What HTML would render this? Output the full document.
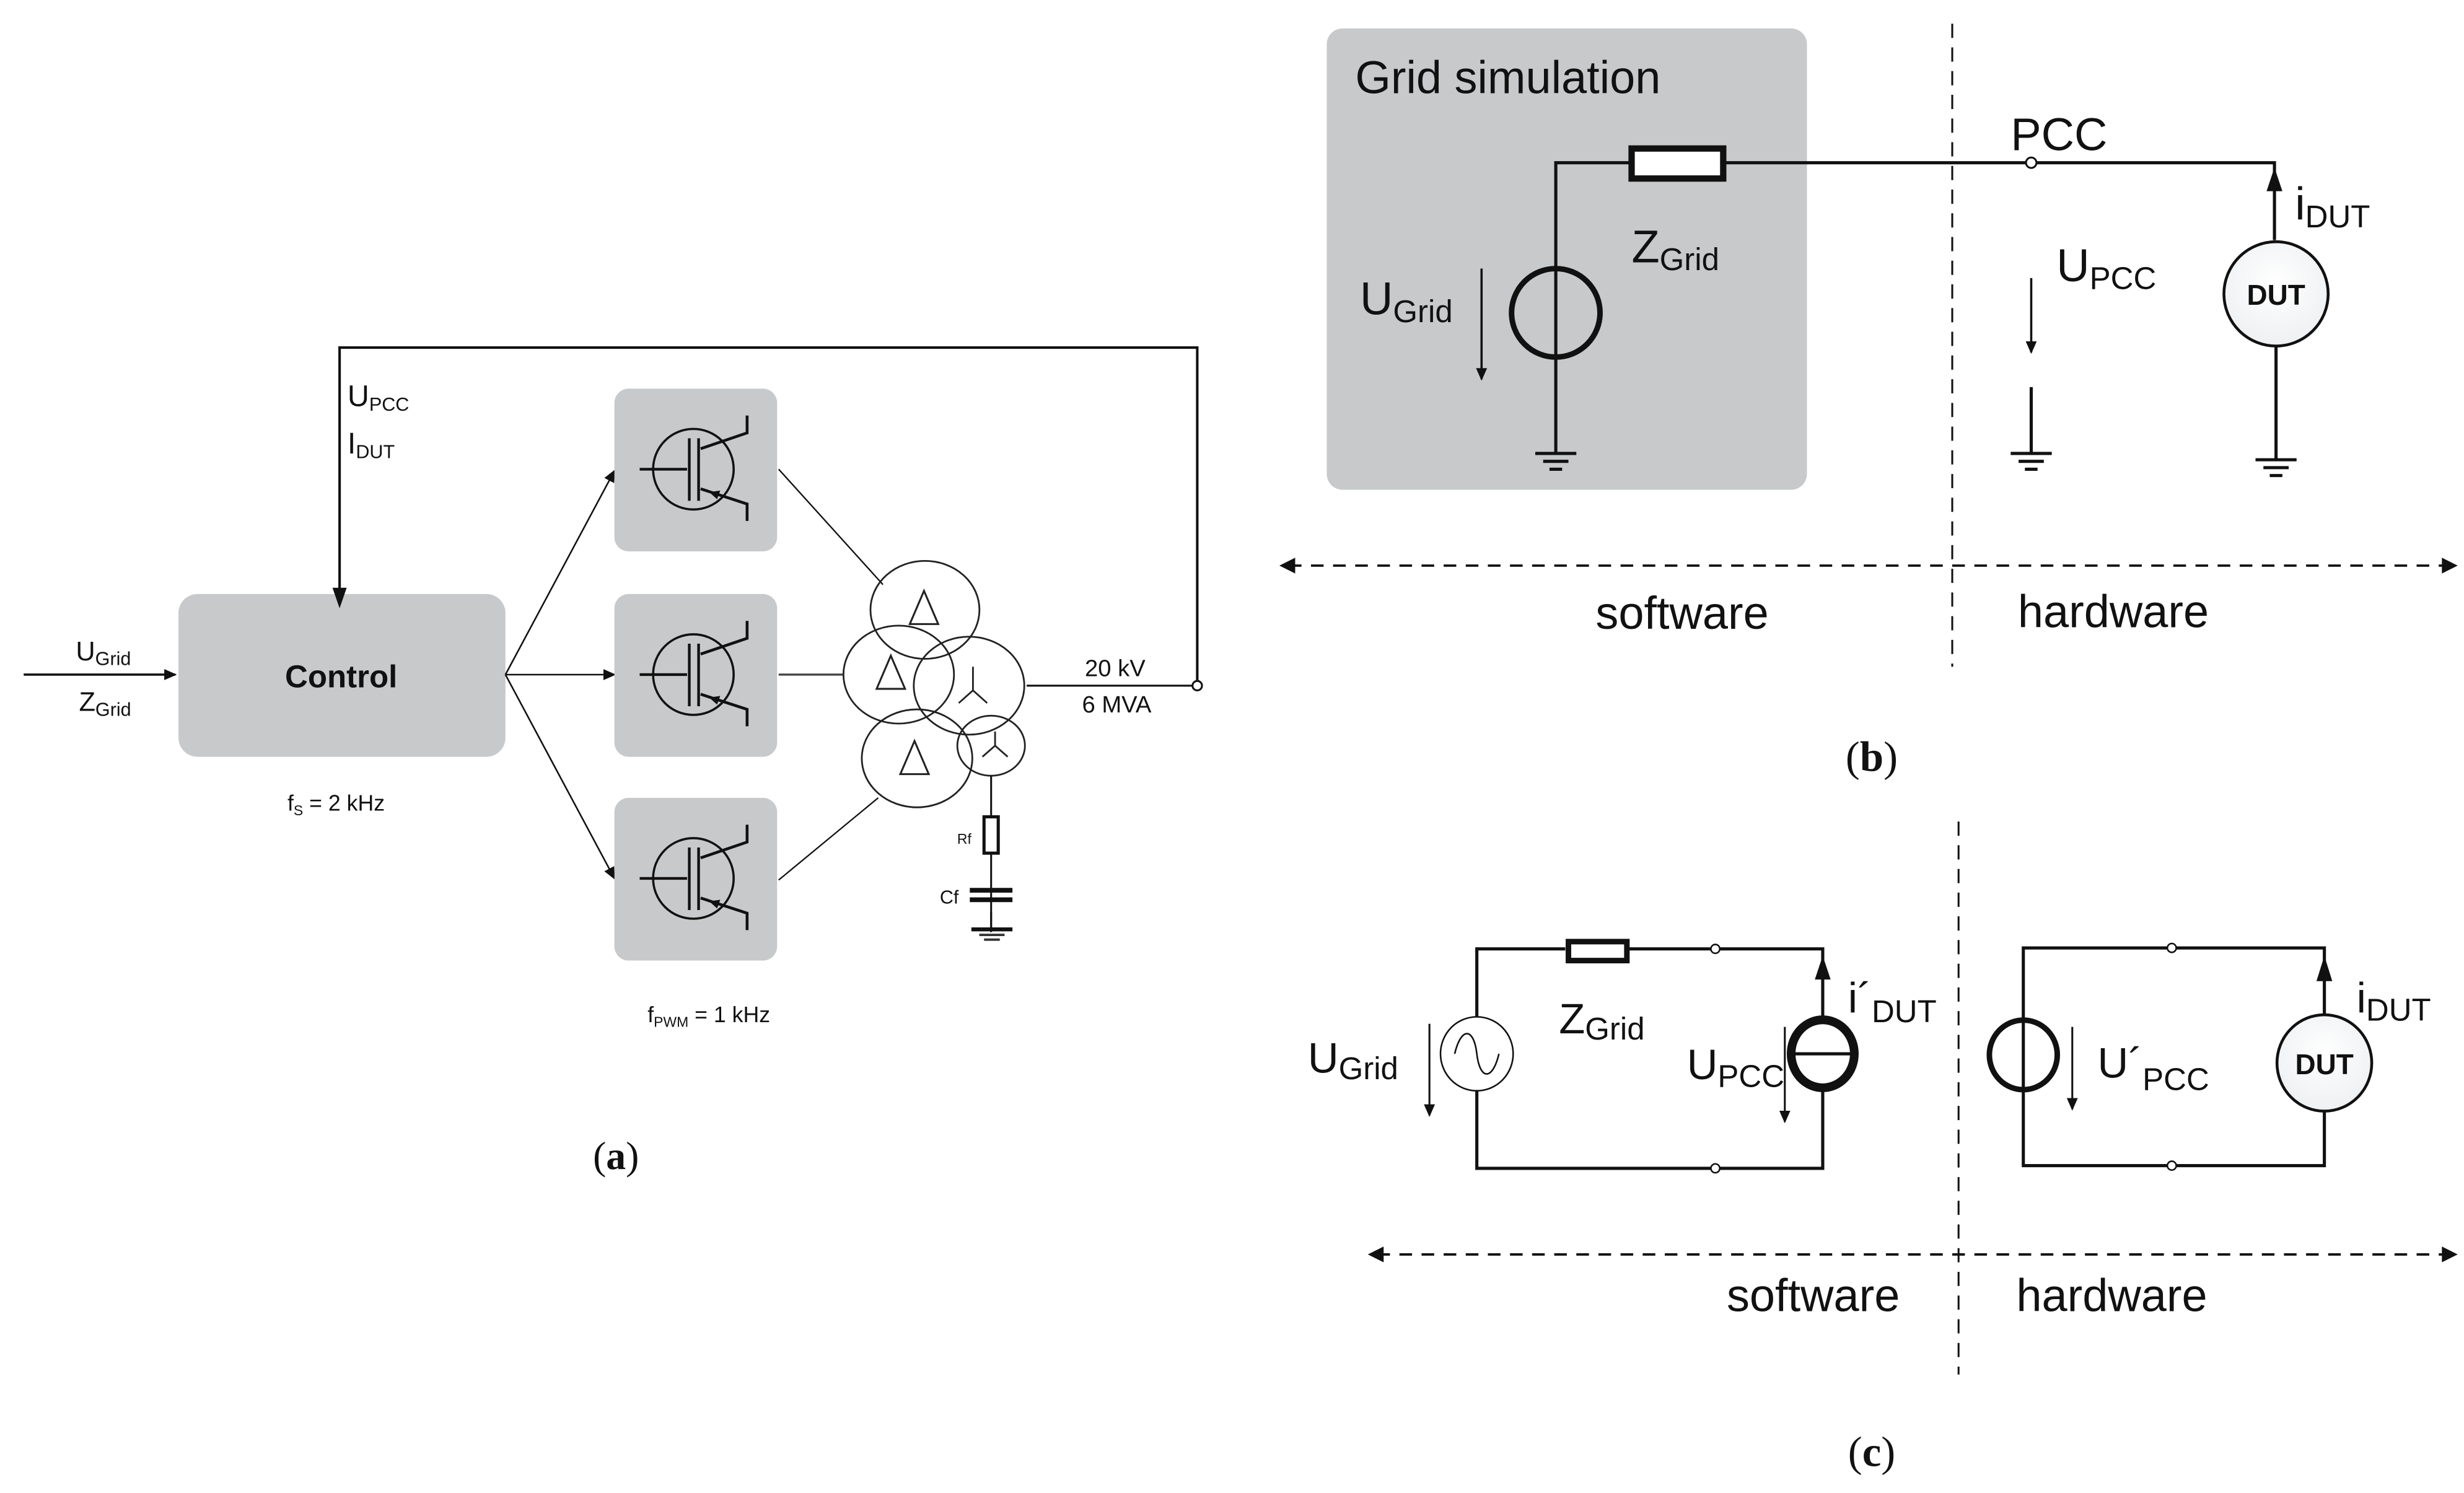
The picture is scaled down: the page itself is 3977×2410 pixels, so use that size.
<!DOCTYPE html>
<html><head><meta charset="utf-8"><style>
html,body{margin:0;padding:0;background:#fff;}
svg{display:block;}
text{font-family:"Liberation Sans",sans-serif;fill:#111;}
</style></head><body>
<svg width="3977" height="2410" viewBox="0 0 1560 945" preserveAspectRatio="none" xmlns="http://www.w3.org/2000/svg">
<defs>
<marker id="ah" markerWidth="8" markerHeight="8" refX="7" refY="4" orient="auto" markerUnits="userSpaceOnUse"><path d="M0,0.5 L8,4 L0,7.5 Z" fill="#111"/></marker>
<radialGradient id="dg" cx="0.5" cy="0.4" r="0.6"><stop offset="0" stop-color="#fff"/><stop offset="1" stop-color="#eef0f2"/></radialGradient>
<g id="igbt" fill="none" stroke="#111">
<circle cx="0" cy="0" r="25.5" stroke-width="1.4"/>
<line x1="-34" y1="0" x2="-4" y2="0" stroke-width="1.7"/>
<line x1="-2.6" y1="-19.6" x2="-2.6" y2="20" stroke-width="1.7"/>
<line x1="3.3" y1="-19.6" x2="3.3" y2="20" stroke-width="1.7"/>
<polyline points="4.6,-13 34,-23 34,-34" stroke-width="1.8"/>
<polyline points="4.6,12.4 34,22 34,32.7" stroke-width="1.8"/>
<path d="M10,14.5 L17,13.5 L15,19 Z" fill="#111" stroke="none"/>
</g>
<g id="gnd" stroke="#111" fill="none">
<line x1="-13" y1="0" x2="13" y2="0" stroke-width="2"/>
<line x1="-8" y1="5" x2="8" y2="5" stroke-width="2"/>
<line x1="-4" y1="10" x2="4" y2="10" stroke-width="2"/>
</g>
</defs>

<!-- (a) -->
<polyline points="215,374 215,220 758,220 758,431" fill="none" stroke="#111" stroke-width="1.6"/>
<text x="220" y="257" font-size="19">U<tspan font-size="12" dy="3">PCC</tspan></text>
<text x="220" y="287" font-size="19">I<tspan font-size="12" dy="3">DUT</tspan></text>
<line x1="15" y1="427" x2="111" y2="427" stroke="#111" stroke-width="1.4" marker-end="url(#ah)"/>
<text x="48" y="418" font-size="17">U<tspan font-size="12" dy="3">Grid</tspan></text>
<text x="50" y="450" font-size="17">Z<tspan font-size="12" dy="3">Grid</tspan></text>
<rect x="113" y="376" width="207" height="103" rx="12" fill="#c7c9ca"/>
<path d="M215,385 L210.5,372 L219.5,372 Z" fill="#111"/>
<text x="216" y="435" font-size="20" font-weight="bold" text-anchor="middle">Control</text>
<text x="182" y="513" font-size="14">f<tspan font-size="9" dy="3">S</tspan><tspan dy="-3"> = 2 kHz</tspan></text>

<line x1="320" y1="427" x2="389" y2="298" stroke="#111" stroke-width="1" marker-end="url(#ah)"/>
<line x1="320" y1="427" x2="389" y2="427" stroke="#111" stroke-width="1" marker-end="url(#ah)"/>
<line x1="320" y1="427" x2="389" y2="556" stroke="#111" stroke-width="1" marker-end="url(#ah)"/>

<rect x="389" y="246" width="103" height="103" rx="9" fill="#c7c9ca"/>
<rect x="389" y="376" width="103" height="103" rx="9" fill="#c7c9ca"/>
<rect x="389" y="505" width="103" height="103" rx="9" fill="#c7c9ca"/>
<use href="#igbt" x="439" y="297"/>
<use href="#igbt" x="439" y="427"/>
<use href="#igbt" x="439" y="556"/>

<line x1="493" y1="297" x2="559" y2="370" stroke="#111" stroke-width="0.9"/>
<line x1="493" y1="427" x2="534" y2="427" stroke="#444" stroke-width="1.3"/>
<line x1="493" y1="557" x2="556" y2="505" stroke="#111" stroke-width="0.9"/>

<g fill="none" stroke="#222" stroke-width="1.1">
<ellipse cx="585.6" cy="386" rx="34.5" ry="31"/>
<ellipse cx="569" cy="427" rx="35" ry="31"/>
<ellipse cx="613.5" cy="434" rx="35" ry="31"/>
<ellipse cx="580.6" cy="480" rx="35" ry="31"/>
<ellipse cx="627.5" cy="472" rx="21.4" ry="19"/>
<path d="M576,395 L585,374 L594,395 Z" stroke-width="1.2"/>
<path d="M555,436 L564,415 L573,436 Z" stroke-width="1.2"/>
<path d="M570,490 L579,469 L588,490 Z" stroke-width="1.2"/>
<path d="M616,422 L616,437 M616,437 L607,445 M616,437 L625,445"/>
<path d="M630,463 L630,472 M630,472 L622,479 M630,472 L638,479"/>
</g>
<line x1="650" y1="434" x2="755" y2="434" stroke="#111" stroke-width="1.2"/>
<circle cx="758" cy="434" r="3" fill="#fff" stroke="#111" stroke-width="1.2"/>
<text x="706" y="428" font-size="15" text-anchor="middle">20 kV</text>
<text x="707" y="451" font-size="15" text-anchor="middle">6 MVA</text>
<line x1="627.5" y1="491" x2="627.5" y2="588" stroke="#111" stroke-width="1.2"/>
<rect x="623" y="517" width="9" height="23" fill="#fff" stroke="#111" stroke-width="2"/>
<rect x="615" y="562" width="26" height="15" fill="#fff"/>
<line x1="627.5" y1="562" x2="627.5" y2="590" stroke="#111" stroke-width="1.2"/>
<rect x="614" y="562" width="27" height="3" fill="#111"/>
<rect x="614" y="568" width="27" height="3" fill="#111"/>
<rect x="615" y="587" width="26" height="2.5" fill="#111"/>
<rect x="620" y="591" width="16" height="1.5" fill="#333"/>
<rect x="623" y="594" width="10" height="1.5" fill="#333"/>
<text x="606" y="534" font-size="9">Rf</text>
<text x="595" y="572" font-size="12">Cf</text>
<text x="410" y="647" font-size="14">f<tspan font-size="9" dy="3">PWM</tspan><tspan dy="-3"> = 1 kHz</tspan></text>
<text x="390" y="740" font-size="25" text-anchor="middle" style="font-family:'Liberation Serif',serif">(<tspan font-weight="bold">a</tspan>)</text>

<!-- (b) -->
<rect x="840" y="18" width="304" height="292" rx="10" fill="#c7c9ca"/>
<text x="858" y="59" font-size="29">Grid simulation</text>
<line x1="1236" y1="15" x2="1236" y2="422" stroke="#111" stroke-width="1.2" stroke-dasharray="9,6"/>
<polyline points="985,288 985,103 1032,103" fill="none" stroke="#111" stroke-width="2"/>
<rect x="1033" y="94" width="58" height="19" fill="#fff" stroke="#111" stroke-width="4"/>
<polyline points="1091,103 1440,103 1440,152" fill="none" stroke="#111" stroke-width="2"/>
<path d="M1440,106 L1435,121 L1445,121 Z" fill="#111"/>
<circle cx="1286" cy="103" r="3.3" fill="#fff" stroke="#111" stroke-width="1.2"/>
<text x="1273" y="95" font-size="29">PCC</text>
<circle cx="985" cy="198" r="28" fill="none" stroke="#111" stroke-width="3.5"/>
<use href="#gnd" x="985" y="287"/>
<line x1="938" y1="170" x2="938" y2="240" stroke="#111" stroke-width="1.4" marker-end="url(#ah)"/>
<text x="861" y="199" font-size="29">U<tspan font-size="20" dy="5">Grid</tspan></text>
<text x="1033" y="166" font-size="29">Z<tspan font-size="20" dy="5">Grid</tspan></text>
<line x1="1286" y1="176" x2="1286" y2="223" stroke="#111" stroke-width="1.4" marker-end="url(#ah)"/>
<text x="1302" y="178" font-size="29">U<tspan font-size="20" dy="5">PCC</tspan></text>
<line x1="1286" y1="245" x2="1286" y2="287" stroke="#111" stroke-width="2"/>
<use href="#gnd" x="1286" y="287"/>
<ellipse cx="1441" cy="186" rx="33" ry="33" fill="url(#dg)" stroke="#111" stroke-width="1.8"/>
<text x="1441" y="193" font-size="18" font-weight="bold" text-anchor="middle">DUT</text>
<line x1="1441" y1="219" x2="1441" y2="291" stroke="#111" stroke-width="2"/>
<use href="#gnd" x="1441" y="291"/>
<text x="1453" y="139" font-size="29">i<tspan font-size="20" dy="5">DUT</tspan></text>
<line x1="816" y1="358" x2="1550" y2="358" stroke="#111" stroke-width="1.5" stroke-dasharray="8,6"/>
<path d="M810,358 L820,353 L820,363 Z" fill="#111"/>
<path d="M1556,358 L1546,353 L1546,363 Z" fill="#111"/>
<text x="1065" y="398" font-size="29" text-anchor="middle">software</text>
<text x="1338" y="397" font-size="29" text-anchor="middle">hardware</text>
<text x="1185" y="488" font-size="27" text-anchor="middle" style="font-family:'Liberation Serif',serif">(<tspan font-weight="bold">b</tspan>)</text>

<!-- (c) -->
<line x1="1240" y1="520" x2="1240" y2="870" stroke="#111" stroke-width="1.2" stroke-dasharray="9,6"/>
<polyline points="1082,600.6 1154,600.6 1154,739.5 935,739.5 935,600.6 991,600.6" fill="none" stroke="#111" stroke-width="2"/>
<line x1="1031" y1="600.6" x2="1082" y2="600.6" stroke="#111" stroke-width="2"/>
<rect x="993" y="596" width="37" height="12" fill="#fff" stroke="#111" stroke-width="3.5"/>
<circle cx="1086" cy="600.6" r="2.8" fill="#fff" stroke="#111" stroke-width="1"/>
<circle cx="1086" cy="739.5" r="2.8" fill="#fff" stroke="#111" stroke-width="1"/>
<ellipse cx="935" cy="667" rx="23" ry="23.4" fill="#fff" stroke="#111" stroke-width="1"/>
<path d="M921,667 C925,650 933,650 935,667 C937,684 945,684 949,667" fill="none" stroke="#111" stroke-width="1"/>
<ellipse cx="1154" cy="667" rx="20" ry="21.5" fill="#fff" stroke="#111" stroke-width="5.5"/>
<line x1="1134" y1="667" x2="1174" y2="667" stroke="#111" stroke-width="2"/>
<path d="M1154,605 L1149,620 L1159,620 Z" fill="#111"/>
<line x1="905" y1="648" x2="905" y2="706" stroke="#111" stroke-width="1.2" marker-end="url(#ah)"/>
<text x="828" y="679" font-size="27">U<tspan font-size="20" dy="4">Grid</tspan></text>
<text x="987" y="654" font-size="27">Z<tspan font-size="20" dy="4">Grid</tspan></text>
<line x1="1130" y1="650" x2="1130" y2="710" stroke="#111" stroke-width="1.2" marker-end="url(#ah)"/>
<text x="1068" y="683" font-size="27">U<tspan font-size="20" dy="5">PCC</tspan></text>
<text x="1170" y="641" font-size="27">i´<tspan font-size="20" dy="6">DUT</tspan></text>

<polyline points="1372,600 1471.6,600 1471.6,737.8 1281,737.8 1281,600 1372,600" fill="none" stroke="#111" stroke-width="2"/>
<circle cx="1375" cy="600" r="2.8" fill="#fff" stroke="#111" stroke-width="1"/>
<circle cx="1375" cy="737.8" r="2.8" fill="#fff" stroke="#111" stroke-width="1"/>
<ellipse cx="1281" cy="667.7" rx="21.5" ry="22" fill="none" stroke="#111" stroke-width="3.5"/>
<line x1="1312" y1="650" x2="1312" y2="702" stroke="#111" stroke-width="1.2" marker-end="url(#ah)"/>
<text x="1328" y="682" font-size="27">U´<tspan font-size="20" dy="8">PCC</tspan></text>
<ellipse cx="1471.6" cy="672.8" rx="30" ry="30.5" fill="url(#dg)" stroke="#111" stroke-width="1.8"/>
<text x="1471.6" y="680" font-size="18" font-weight="bold" text-anchor="middle">DUT</text>
<path d="M1471.6,605 L1466.6,621 L1476.6,621 Z" fill="#111"/>
<text x="1492" y="641" font-size="27">i<tspan font-size="20" dy="5">DUT</tspan></text>

<line x1="872" y1="794" x2="1550" y2="794" stroke="#111" stroke-width="1.5" stroke-dasharray="8,6"/>
<path d="M866,794 L876,789 L876,799 Z" fill="#111"/>
<path d="M1556,794 L1546,789 L1546,799 Z" fill="#111"/>
<text x="1148" y="830" font-size="29" text-anchor="middle">software</text>
<text x="1337" y="830" font-size="29" text-anchor="middle">hardware</text>
<text x="1185" y="928" font-size="27" text-anchor="middle" style="font-family:'Liberation Serif',serif">(<tspan font-weight="bold">c</tspan>)</text>
</svg>
</body></html>
